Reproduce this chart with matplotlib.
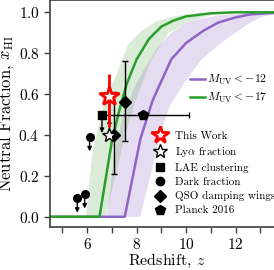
import numpy as np
import matplotlib
matplotlib.use('Agg')
import matplotlib.pyplot as plt
from matplotlib.lines import Line2D
from matplotlib.ticker import MultipleLocator

plt.rcParams['font.family'] = 'serif'
plt.rcParams['font.serif'] = ['cmr10', 'DejaVu Serif']
plt.rcParams['mathtext.fontset'] = 'cm'
plt.rcParams['axes.formatter.use_mathtext'] = True

# model curves
z_purple = [4.5, 7.52, 8.15, 8.65, 9.4, 10.0, 10.7, 11.3, 12.0, 12.6, 14.0]
x_purple = [0, 0, 0.38, 0.57, 0.77, 0.85, 0.91, 0.95, 0.975, 0.99, 1.0]
z_purple_hi = [4.5, 6.8, 7.1, 7.45, 7.9, 8.3, 8.8, 9.4, 9.94, 10.3, 11.3, 12.5, 14.0]
x_purple_hi = [0, 0, 0.3, 0.5, 0.63, 0.72, 0.82, 0.9, 0.946, 0.96, 0.985, 0.997, 1.0]
z_purple_lo = [4.5, 8.15, 8.6, 8.95, 9.33, 9.9, 10.6, 11.3, 12.0, 12.6, 13.04, 14.0]
x_purple_lo = [0, 0, 0.22, 0.4, 0.54, 0.65, 0.766, 0.84, 0.9, 0.95, 0.977, 1.0]

z_green = [4.5, 6.5, 7.0, 7.3, 7.6, 8.0, 8.5, 9.0, 9.5, 10.0, 11.0, 12.0, 14.0]
x_green = [0, 0, 0.37, 0.52, 0.65, 0.77, 0.87, 0.93, 0.96, 0.98, 0.995, 1.0, 1.0]
z_green_hi = [4.5, 5.95, 6.2, 6.7, 7.2, 7.65, 8.2, 8.8, 9.5, 10.5, 12.0, 14.0]
x_green_hi = [0, 0, 0.3, 0.56, 0.7, 0.84, 0.91, 0.955, 0.98, 0.995, 1.0, 1.0]
z_green_lo = [4.5, 6.75, 7.5, 7.9, 8.6, 9.3, 10.0, 11.0, 12.0, 14.0]
x_green_lo = [0, 0, 0.38, 0.55, 0.77, 0.9, 0.95, 0.985, 0.998, 1.0]

# observations
this_z, this_x, this_lo, this_hi = 6.9, 0.59, 0.15, 0.11
lya_z, lya_x = 6.9, 0.40
lae_z, lae_x = 6.6, 0.50
dark_z = [5.6, 5.9, 6.1]
dark_x = [0.09, 0.11, 0.39]
qso_z = [7.1, 7.54]
qso_x = [0.40, 0.56]
qso_lo = [0.19, 0.19]
qso_hi = [0.21, 0.20]
planck_z, planck_x, planck_lo, planck_hi = 8.25, 0.50, 1.65, 1.85

purple = '#9063c6'
green = '#2a9d2a'

fig = plt.figure(figsize=(2.74, 2.70), dpi=100)
zmin, zmax = 4.5, 13.9
ax = fig.add_axes([50 / 274, 43 / 270, (zmax - zmin) * 24.75 / 274, 227 / 270])

ax.fill(np.r_[z_purple_hi, z_purple_lo[::-1]], np.r_[x_purple_hi, x_purple_lo[::-1]],
        color=purple, alpha=0.22, lw=0, zorder=1)
ax.fill(np.r_[z_green_hi, z_green_lo[::-1]], np.r_[x_green_hi, x_green_lo[::-1]],
        color='#5aa84a', alpha=0.22, lw=0, zorder=1)
ax.plot(z_purple, x_purple, color=purple, lw=1.8, zorder=2)
ax.plot(z_green, x_green, color=green, lw=1.8, zorder=2)

ax.errorbar(planck_z, planck_x, xerr=[[planck_lo], [planck_hi]], fmt='p', color='k',
            ms=7, lw=1, capsize=2.5, zorder=4)
ax.errorbar(qso_z, qso_x, yerr=[qso_lo, qso_hi], fmt='D', color='k',
            ms=6, lw=1, capsize=2.5, zorder=4)

arrow = dict(arrowstyle='-|>', color='k', lw=1, mutation_scale=6, shrinkA=0, shrinkB=0)
for z, x in zip(dark_z, dark_x):
    ax.annotate('', xy=(z, x - 0.07), xytext=(z, x), arrowprops=arrow, zorder=4)
ax.plot(dark_z, dark_x, 'o', color='k', ms=5.5, zorder=5)
ax.annotate('', xy=(lae_z, lae_x - 0.09), xytext=(lae_z, lae_x), arrowprops=arrow, zorder=4)
ax.plot(lae_z, lae_x, 's', color='k', ms=6, zorder=5)
ax.annotate('', xy=(lya_z, lya_x + 0.08), xytext=(lya_z, lya_x), arrowprops=arrow, zorder=4)
ax.plot(lya_z, lya_x, '*', mfc='white', mec='k', mew=1, ms=10, zorder=6)

ax.errorbar(this_z, this_x, yerr=[[this_lo], [this_hi]], fmt='none', ecolor='red',
            lw=2, capsize=0, zorder=7)
ax.plot(this_z, this_x, '*', mfc='white', mec='red', mew=2, ms=15, zorder=8)

ax.set_xlim(zmin, zmax)
ax.set_ylim(-0.05, 1.06)
ax.xaxis.set_major_locator(MultipleLocator(2))
ax.xaxis.set_minor_locator(MultipleLocator(1))
ax.yaxis.set_major_locator(MultipleLocator(0.2))
ax.tick_params(which='both', direction='out', length=4, width=1, labelsize=11, color='0.25')
for s in ax.spines.values():
    s.set_color('0.25')
    s.set_linewidth(1.2)

ax.set_xlabel('Redshift, $z$', fontsize=11.5, labelpad=0)
ax.set_ylabel(r'Neutral Fraction, $\overline{x}_{\rm HI}$', fontsize=12, labelpad=1.5)

line_handles = [Line2D([], [], color=purple, lw=1.8), Line2D([], [], color=green, lw=1.8)]
leg1 = ax.legend(line_handles, [r'$M_{\rm UV} < -12$', r'$M_{\rm UV} < -17$'],
                 loc='upper left', bbox_to_anchor=((190 - 50) / 232.65, (227 - 73) / 227),
                 frameon=False, fontsize=8.5, handlelength=1.25, handletextpad=0.15,
                 borderpad=0, borderaxespad=0, labelspacing=0.35)
ax.add_artist(leg1)

mk_handles = [
    Line2D([], [], ls='none', marker='*', mfc='white', mec='red', mew=2, ms=13),
    Line2D([], [], ls='none', marker='*', mfc='white', mec='k', mew=1, ms=10),
    Line2D([], [], ls='none', marker='s', color='k', ms=6),
    Line2D([], [], ls='none', marker='o', color='k', ms=6),
    Line2D([], [], ls='none', marker='D', color='k', ms=6),
    Line2D([], [], ls='none', marker='p', color='k', ms=7.5),
]
mk_labels = ['This Work', r'Ly$\alpha$ fraction', 'LAE clustering', 'Dark fraction',
             'QSO damping wings', 'Planck 2016']
ax.legend(mk_handles, mk_labels, loc='upper left',
          bbox_to_anchor=((152 - 50) / 232.65, (227 - 131) / 227),
          frameon=False, fontsize=8, handlelength=1.4, handletextpad=0.65,
          borderpad=0, borderaxespad=0, labelspacing=0.38)

fig.savefig('out.png', dpi=100)
